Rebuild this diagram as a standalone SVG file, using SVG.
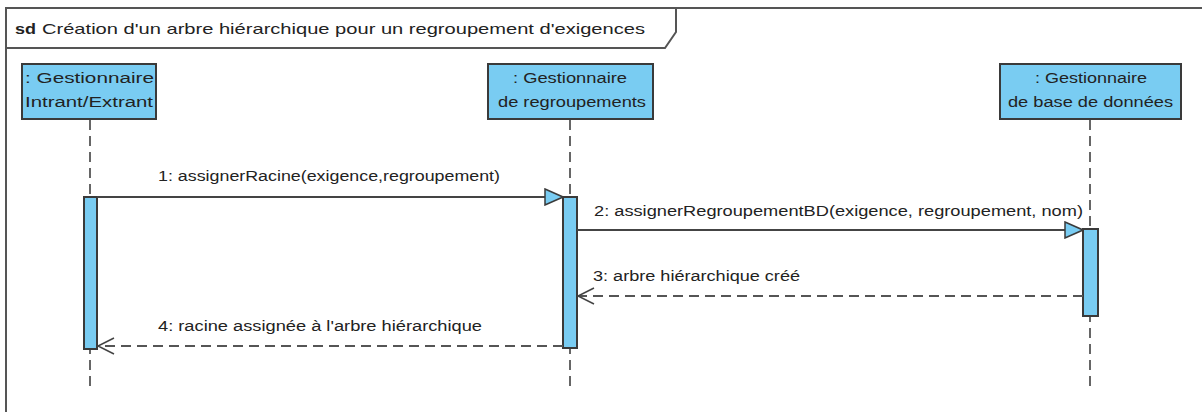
<svg xmlns="http://www.w3.org/2000/svg" width="1202" height="412" viewBox="0 0 1202 412">
<defs>
<style>
text{font-family:"Liberation Sans",Arial,sans-serif;fill:#222;}
.lbl{font-size:14px;}
.box{fill:#79CCF2;stroke:#3a3a3a;stroke-width:2;}
.bar{fill:#79CCF2;stroke:#3a3a3a;stroke-width:2;}
.life{stroke:#666;stroke-width:2;stroke-dasharray:10,6;fill:none;}
.msg{stroke:#444;stroke-width:2;fill:none;}
.ret{stroke:#555;stroke-width:2;stroke-dasharray:10,6;fill:none;}
</style>
<marker id="sync" markerWidth="20" markerHeight="18" refX="19" refY="9" orient="auto" markerUnits="userSpaceOnUse">
<path d="M1,1 L19,9 L1,17 Z" fill="#79CCF2" stroke="#3a3a3a" stroke-width="1.5"/>
</marker>
<marker id="open" markerWidth="20" markerHeight="20" refX="18" refY="10" orient="auto" markerUnits="userSpaceOnUse">
<path d="M2,2 L18,10 L2,18" fill="none" stroke="#444" stroke-width="1.5"/>
</marker>
</defs>
<rect width="1202" height="412" fill="#fff"/>
<g id="frame">
<path d="M6,412 V8 H1202" fill="none" stroke="#555" stroke-width="2"/>
<path d="M6,48 H665 L676,32 V8" fill="none" stroke="#555" stroke-width="2"/>
<text x="15" y="34" style="font-size:15px;font-weight:bold" textLength="21" lengthAdjust="spacingAndGlyphs">sd</text>
<text x="42" y="34" style="font-size:15px" textLength="603" lengthAdjust="spacingAndGlyphs">Création d'un arbre hiérarchique pour un regroupement d'exigences</text>
</g>
<g id="lifelines">
<line class="life" x1="90" y1="120" x2="90" y2="392"/>
<line class="life" x1="570" y1="120" x2="570" y2="392"/>
<line class="life" x1="1090" y1="120" x2="1090" y2="392"/>
</g>
<g id="n1">
<rect class="box" x="22" y="64" width="134" height="55"/>
<text class="lbl" x="25" y="83" textLength="129" lengthAdjust="spacingAndGlyphs">: Gestionnaire</text>
<text class="lbl" x="25" y="107" textLength="128" lengthAdjust="spacingAndGlyphs">Intrant/Extrant</text>
<rect class="bar" x="84" y="197" width="13" height="152"/>
</g>
<g id="n2">
<rect class="box" x="488" y="64" width="165" height="55"/>
<text class="lbl" x="513" y="83" textLength="114" lengthAdjust="spacingAndGlyphs">: Gestionnaire</text>
<text class="lbl" x="498" y="107" textLength="148" lengthAdjust="spacingAndGlyphs">de regroupements</text>
<rect class="bar" x="563" y="197" width="14" height="151"/>
</g>
<g id="n3">
<rect class="box" x="1000" y="64" width="181" height="55"/>
<text class="lbl" x="1035" y="83" textLength="112" lengthAdjust="spacingAndGlyphs">: Gestionnaire</text>
<text class="lbl" x="1008" y="107" textLength="165" lengthAdjust="spacingAndGlyphs">de base de données</text>
<rect class="bar" x="1083" y="229" width="15" height="87"/>
</g>
<g id="connectors">
<line class="msg" x1="97" y1="197" x2="563" y2="197" marker-end="url(#sync)"/>
<text class="lbl" x="158" y="181" textLength="342" lengthAdjust="spacingAndGlyphs">1: assignerRacine(exigence,regroupement)</text>
<line class="msg" x1="577" y1="230" x2="1083" y2="230" marker-end="url(#sync)"/>
<text class="lbl" x="594" y="216" textLength="489" lengthAdjust="spacingAndGlyphs">2: assignerRegroupementBD(exigence, regroupement, nom)</text>
<line class="ret" x1="1083" y1="296" x2="578" y2="296" marker-end="url(#open)"/>
<text class="lbl" x="593" y="281" textLength="207" lengthAdjust="spacingAndGlyphs">3: arbre hiérarchique créé</text>
<line class="ret" x1="563" y1="346" x2="98" y2="346" marker-end="url(#open)"/>
<text class="lbl" x="158" y="331" textLength="324" lengthAdjust="spacingAndGlyphs">4: racine assignée à l'arbre hiérarchique</text>
</g>
</svg>
